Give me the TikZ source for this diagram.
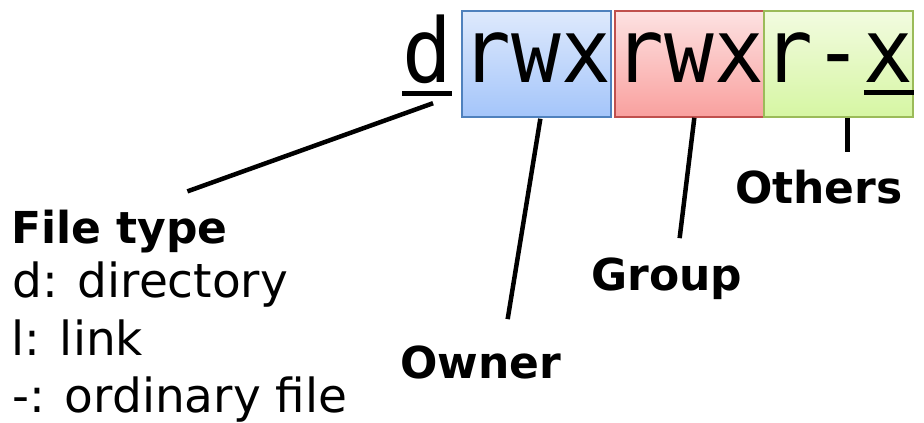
\documentclass[tikz,border=0pt]{standalone}
\usepackage{fontspec}
\setmainfont{DejaVu Sans}
\newfontfamily\permfont{DejaVu Sans Mono}[FakeStretch=0.928]
\usepackage{tikz}
\usetikzlibrary{calc}

\definecolor{ownerdraw}{RGB}{79,129,189}
\definecolor{ownertop}{RGB}{222,233,252}
\definecolor{ownerbot}{RGB}{164,197,250}
\definecolor{groupdraw}{RGB}{192,80,77}
\definecolor{grouptop}{RGB}{253,226,226}
\definecolor{groupbot}{RGB}{249,160,158}
\definecolor{othersdraw}{RGB}{155,187,89}
\definecolor{otherstop}{RGB}{242,251,224}
\definecolor{othersbot}{RGB}{214,246,163}

\tikzset{
  permchar/.style={inner sep=0pt, anchor=base west,
    font=\permfont\fontsize{89}{89}\selectfont},
  permbox/.style={permchar, draw, line width=1.5pt, minimum width=149pt,
    text height=71pt, text depth=35pt},
  lbl/.style={inner sep=0pt, anchor=base west,
    font=\bfseries\fontsize{44}{44}\selectfont},
  txt/.style={inner sep=0pt, anchor=base west,
    font=\fontsize{47}{47}\selectfont},
  wire/.style={line width=4.5pt},
  uline/.style={line width=5pt}
}

\begin{document}
\begin{tikzpicture}[x=1pt, y=-1pt]
\useasboundingbox (0,0) rectangle (924,423);

% --- permission string ---
\node[permchar, text depth=11pt] (dchar) at (402,82) {d};
\node[permbox, draw=ownerdraw, top color=ownertop, bottom color=ownerbot] (ownerbox) at (461,82) {rwx};
\node[permbox, draw=groupdraw, top color=grouptop, bottom color=groupbot] (groupbox) at (614,82) {rwx};
\node[permbox, draw=othersdraw, top color=otherstop, bottom color=othersbot] (othersbox) at (763,82) {r-x};

% underlines under d and the last x
\draw[uline] (dchar.south west) -- (dchar.south east);
\draw[uline] ([xshift=-49.7pt, yshift=25pt]othersbox.south east) -- ([yshift=25pt]othersbox.south east);

% --- labels ---
\node[lbl] (ftypelbl) at (11,243) {File type};
\node[txt] (dirtxt) at (12,297) {d: directory};
\node[txt] (linktxt) at (11,355) {l: link};
\node[txt] (filetxt) at (12,412) {-: ordinary file};

\node[lbl] (ownerlbl) at (400,378) {Owner};
\node[lbl] (grouplbl) at (591,290) {Group};
\node[lbl] (otherslbl) at (735,203) {Others};

% --- connectors ---
\coordinate (othersfoot) at ($(othersbox.south)+(9,0)$);
\coordinate (otherstip) at ($(otherslbl.north)+(0,-17)$);
\draw[wire] ($(dchar.south)+(6,10)$) -- ($(ftypelbl.north)+(68,-18)$);
\draw[wire] ($(ownerbox.south)+(4,1)$) -- ($(ownerlbl.north)+(27,-26)$);
\draw[wire] ($(groupbox.south)+(5,0)$) -- ($(grouplbl.north)+(13,-19)$);
\draw[wire] (othersfoot) -- (othersfoot |- otherstip);

\end{tikzpicture}
\end{document}
